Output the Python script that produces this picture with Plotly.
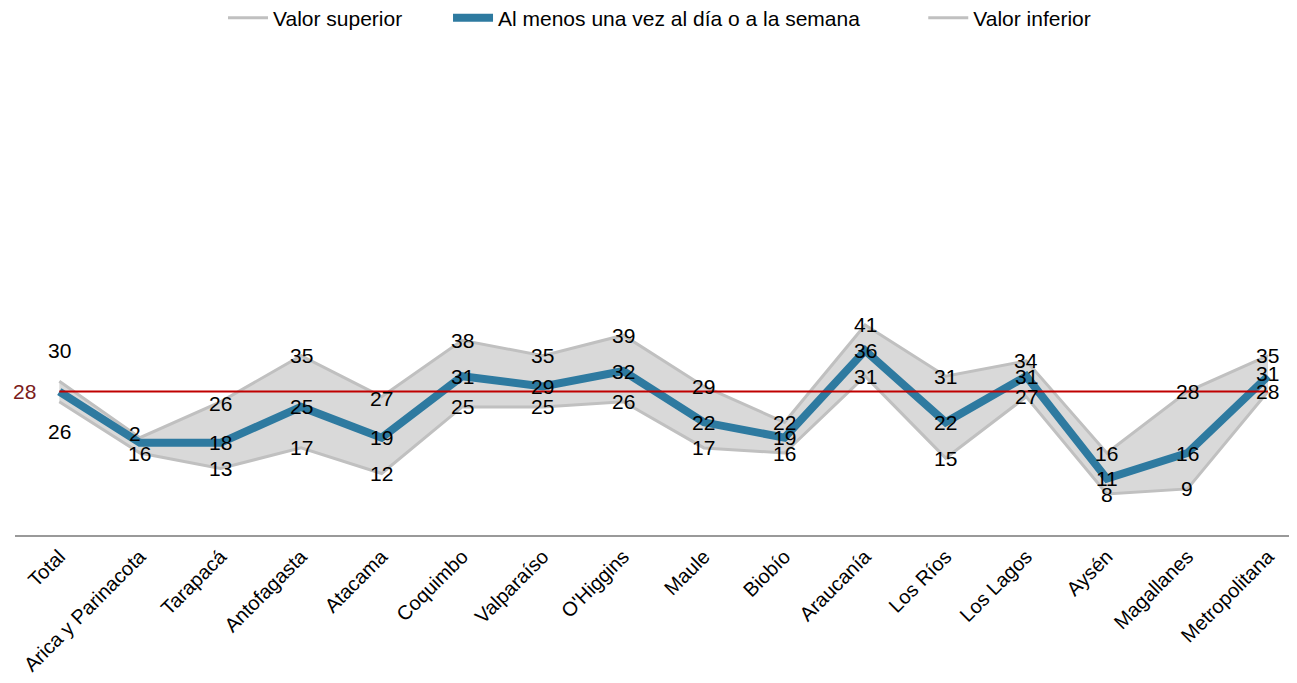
import plotly.graph_objects as go

categories = ["Total", "Arica y Parinacota", "Tarapacá", "Antofagasta", "Atacama",
              "Coquimbo", "Valparaíso", "O'Higgins", "Maule", "Biobío", "Araucanía",
              "Los Ríos", "Los Lagos", "Aysén", "Magallanes", "Metropolitana"]
upper = [30, 19, 26, 35, 27, 38, 35, 39, 29, 22, 41, 31, 34, 16, 28, 35]
main = [28, 18, 18, 25, 19, 31, 29, 32, 22, 19, 36, 22, 31, 11, 16, 31]
lower = [26, 16, 13, 17, 12, 25, 25, 26, 17, 16, 31, 15, 27, 8, 9, 28]

upper_labels = ["30", "", "26", "35", "27", "38", "35", "39", "29", "22", "41", "31", "34", "16", "28", "35"]
main_labels = ["", "2", "18", "25", "19", "31", "29", "32", "22", "19", "36", "22", "31", "11", "16", "31"]
lower_labels = ["26", "16", "13", "17", "12", "25", "25", "26", "17", "16", "31", "15", "27", "8", "9", "28"]
# label offsets in px (positive = up / right)
upper_shift = [31, 0, -2, 0, -2, 0, 0, 0, 0, 0, 0, 0, 0, 0, 0, 0]
main_shift = [0, 9, 0, 0, 0, 0, 0, 0, 0, 0, 0, 0, 0, 0, 0, 3]
main_xshift = [0, -5, 0, 0, 0, 0, 0, 0, 0, 0, 0, 0, 0, 0, 0, 0]
lower_shift = [-30, 0, 0, 0, 0, 0, 0, 0, 0, 0, 0, 0, 0, 0, 0, 0]
zero_x = [0] * 16

series_names = ["Valor superior", "Al menos una vez al día o a la semana", "Valor inferior"]

total_value = main[0]

FONT = "Liberation Sans, Arial, sans-serif"
BLUE = "#2e7aa0"
GRAY_LINE = "#c0c0c0"
GRAY_FILL = "#d9d9d9"
NB = "\u00a0"

fig = go.Figure()
# band fill
fig.add_trace(go.Scatter(x=categories, y=upper, mode="lines", line=dict(width=0),
                         showlegend=False, hoverinfo="skip"))
fig.add_trace(go.Scatter(x=categories, y=lower, mode="lines", line=dict(width=0),
                         fill="tonexty", fillcolor=GRAY_FILL, showlegend=False, hoverinfo="skip"))
# lines
fig.add_trace(go.Scatter(x=categories, y=upper, mode="lines", name=series_names[0] + NB * 7,
                         line=dict(color=GRAY_LINE, width=3)))
fig.add_trace(go.Scatter(x=categories, y=main, mode="lines", name=series_names[1] + NB * 10,
                         line=dict(color=BLUE, width=8)))
fig.add_trace(go.Scatter(x=categories, y=lower, mode="lines", name=series_names[2],
                         line=dict(color=GRAY_LINE, width=3)))
# reference line at total
fig.add_trace(go.Scatter(x=[categories[0], categories[-1]], y=[total_value, total_value],
                         mode="lines", line=dict(color="#c00000", width=2),
                         showlegend=False, hoverinfo="skip"))

annotations = []
for labels, vals, shifts, xshifts in ((upper_labels, upper, upper_shift, zero_x),
                                      (main_labels, main, main_shift, main_xshift),
                                      (lower_labels, lower, lower_shift, zero_x)):
    for c, v, t, s, xs in zip(categories, vals, labels, shifts, xshifts):
        if t:
            annotations.append(dict(x=c, y=v, text=t, showarrow=False, yshift=s, xshift=xs,
                                    font=dict(family=FONT, size=21, color="#000000")))
annotations.append(dict(x=categories[0], y=total_value, text=str(total_value), showarrow=False,
                        xanchor="right", xshift=-21,
                        font=dict(family=FONT, size=21, color="#7b1b1b")))

H = 683
fig.update_layout(
    width=1297, height=H,
    margin=dict(l=7, r=8, t=66, b=156, autoexpand=False),
    paper_bgcolor="white", plot_bgcolor="white",
    font=dict(family=FONT, size=18, color="#000000"),
    showlegend=True,
    legend=dict(orientation="h", x=651.5 / 1297, xanchor="center", xref="container",
                y=1 - 10 / H, yanchor="middle", yref="container", traceorder="normal",
                font=dict(family=FONT, size=21, color="#000000"), itemwidth=40),
    annotations=annotations,
    xaxis=dict(type="category", range=[-0.55, 15.36], showgrid=False, zeroline=False,
               showline=True, linecolor="#999999", linewidth=2, ticks="", automargin=False,
               tickangle=-45, tickfont=dict(family=FONT, size=20, color="#000000")),
    yaxis=dict(range=[0, 90], showgrid=False, zeroline=False, showticklabels=False,
               showline=False, ticks="", automargin=False),
)

fig.write_html("out.html")
